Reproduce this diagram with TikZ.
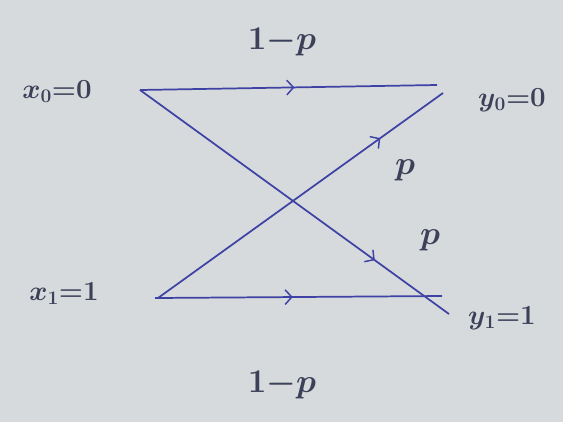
\documentclass[tikz,border=0pt]{standalone}
\usetikzlibrary{arrows.meta,decorations.markings}
\definecolor{paper}{RGB}{214,218,220}
\definecolor{ink}{RGB}{62,66,165}
\definecolor{pencil}{RGB}{60,64,88}
\begin{document}
\begin{tikzpicture}[x=0.75pt,y=-0.75pt,
  wire/.style={draw=ink,line width=1.3pt,
    postaction={decorate},
    decoration={markings,mark=at position #1 with {\arrow[ink,line width=1.1pt]{Straight Barb[length=5pt,width=11pt]}}}},
  lbl/.style={text=pencil,font=\fontsize{20}{22}\selectfont\boldmath,inner sep=0pt},
  plbl/.style={text=pencil,font=\fontsize{24}{26}\selectfont\boldmath,inner sep=0pt}]
\fill[paper] (0,0) rectangle (563,422);
\useasboundingbox (0,0) rectangle (563,422);
% end points
\coordinate (a0) at (140,90);
\coordinate (a1) at (158,298);
\coordinate (b0t) at (437,85);
\coordinate (b0d) at (443,93);
\coordinate (b1h) at (442,296);
\coordinate (b1d) at (449,314);
\coordinate (a1h) at (155,298);
% connectors
\draw[wire=0.52] (a0) -- (b0t);
\draw[wire=0.78] (a1) -- (b0d);
\draw[wire=0.76] (a0) -- (b1d);
\draw[wire=0.48] (a1h) -- (b1h);
% labels
\node[lbl] (lx0) at (57,92) {$x_0{=}0$};
\node[lbl] (lx1) at (64,294) {$x_1{=}1$};
\node[lbl] (ly0) at (512,100) {$y_0{=}0$};
\node[lbl] (ly1) at (502,318) {$y_1{=}1$};
\node[plbl] (ptop) at (282,42) {$1{-}p$};
\node[plbl] (pbot) at (282,385) {$1{-}p$};
\node[plbl] (p1) at (405,170) {$p$};
\node[plbl] (p2) at (430,240) {$p$};
\end{tikzpicture}
\end{document}
